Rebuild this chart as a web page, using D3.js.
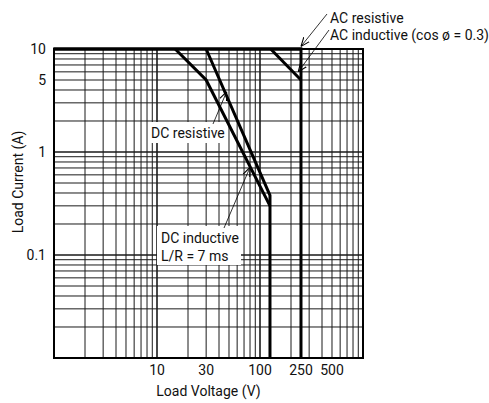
<!DOCTYPE html>
<html>
  <head>
    <meta charset="utf-8"/>
    <title>Maximum switching capacity</title>
    <script src="https://cdnjs.cloudflare.com/ajax/libs/d3/7.8.5/d3.min.js"></script>
    <style>
      body { margin: 0; background: #fff; }
      text {
        font-family: Roboto, "Liberation Sans", sans-serif;
        font-size: 14px;
        fill: #111;
      }
      .grid line { stroke: #1a1a1a; stroke-width: 1px; }
      .curve { fill: none; stroke: #000; stroke-width: 3px; stroke-linejoin: miter; }
      .arrow { fill: none; stroke: #000; stroke-width: 0.8px; }
    </style>
  </head>
  <body>

    <script>

      var outerWidth = 489;
      var outerHeight = 403;

      // axes
      var voltDomain = [1, 1000];
      var ampDomain = [0.01, 10];
      var xTickValues = [10, 30, 100, 250, 500];
      var yTickValues = [10, 5, 1, 0.1];

      // curves (V, A)
      var acResV = [1, 250, 250];
      var acResA = [10, 10, 0.01];
      var acIndV = [127, 250];
      var acIndA = [10, 5];
      var dcResV = [30, 125, 125];
      var dcResA = [10, 0.38, 0.01];
      var dcIndV = [15, 30, 125];
      var dcIndA = [10, 5, 0.3];

      // labels and where their arrows point (V, A)
      var noteLines = [["AC resistive"], ["AC inductive (cos ø = 0.3)"], ["DC resistive"], ["DC inductive", "L/R = 7 ms"]];
      var noteV = [250, 235, 47.5, 80];
      var noteA = [10.6, 6.0, 3.86, 0.71];

      var margin = { left: 54, top: 49 };
      var plotSize = 309;

      var svg = d3.select("body").append("svg")
        .attr("width", outerWidth)
        .attr("height", outerHeight);

      var xScale = d3.scaleLog().domain(voltDomain).range([margin.left, margin.left + plotSize]);
      var yScale = d3.scaleLog().domain(ampDomain).range([margin.top + plotSize, margin.top]);

      // log grid: 1..9 in each decade
      function gridValues(domain){
        var out = [];
        for (var d = domain[0]; d < domain[1] - 1e-9; d *= 10){
          for (var k = 1; k < 10; k++) out.push(d * k);
        }
        out.push(domain[1]);
        return out;
      }
      function isDecade(v){ return Math.abs(Math.log10(v) - Math.round(Math.log10(v))) < 1e-6; }

      var grid = svg.append("g").attr("class", "grid");
      grid.selectAll("line.v").data(gridValues(voltDomain)).enter().append("line")
        .attr("class", "v")
        .attr("x1", function (d){ return xScale(d); })
        .attr("x2", function (d){ return xScale(d); })
        .attr("y1", yScale(ampDomain[0]))
        .attr("y2", yScale(ampDomain[1]))
        .style("stroke-width", function (d){ return isDecade(d) ? 1.6 : 1; });
      grid.selectAll("line.h").data(gridValues(ampDomain)).enter().append("line")
        .attr("class", "h")
        .attr("y1", function (d){ return yScale(d); })
        .attr("y2", function (d){ return yScale(d); })
        .attr("x1", xScale(voltDomain[0]))
        .attr("x2", xScale(voltDomain[1]))
        .style("stroke-width", function (d){ return isDecade(d) ? 1.6 : 1; });

      svg.append("rect")
        .attr("x", xScale(voltDomain[0]))
        .attr("y", yScale(ampDomain[1]))
        .attr("width", xScale(voltDomain[1]) - xScale(voltDomain[0]))
        .attr("height", yScale(ampDomain[0]) - yScale(ampDomain[1]))
        .attr("fill", "none")
        .attr("stroke", "#000")
        .attr("stroke-width", 2);

      // white label boxes over the grid
      svg.append("rect").attr("x", 148).attr("y", 122).attr("width", 77).attr("height", 21).attr("fill", "#fff");
      svg.append("rect").attr("x", 157).attr("y", 226).attr("width", 84).attr("height", 39).attr("fill", "#fff");

      var line = d3.line()
        .x(function (d){ return xScale(d[0]); })
        .y(function (d){ return yScale(d[1]); });

      function pairs(vs, as){ return vs.map(function (v, i){ return [v, as[i]]; }); }

      [[acResV, acResA], [acIndV, acIndA], [dcResV, dcResA], [dcIndV, dcIndA]].forEach(function (c){
        svg.append("path").attr("class", "curve").attr("d", line(pairs(c[0], c[1])));
      });
      svg.append("rect")
        .attr("x", xScale(voltDomain[0]) - 1)
        .attr("y", yScale(ampDomain[1]) - 1.5)
        .attr("width", xScale(250) - xScale(voltDomain[0]) + 2)
        .attr("height", 3)
        .attr("fill", "#000");

      // arrows
      svg.append("defs").append("marker")
        .attr("id", "head")
        .attr("viewBox", "0 0 10 10")
        .attr("refX", 10).attr("refY", 5)
        .attr("markerWidth", 9).attr("markerHeight", 9)
        .attr("markerUnits", "userSpaceOnUse")
        .attr("orient", "auto")
        .append("path").attr("d", "M0,1 L10,5 L0,9").attr("fill", "none").attr("stroke", "#000").attr("stroke-width", 1.2);

      var noteText = [[330, 23], [330, 40], [151, 138], [161, 243]];
      var noteTail = [[327, 14], [329, 30], [213, 124], [224, 228]];

      noteLines.forEach(function (lines, i){
        svg.append("line").attr("class", "arrow")
          .attr("x1", noteTail[i][0]).attr("y1", noteTail[i][1])
          .attr("x2", xScale(noteV[i])).attr("y2", yScale(noteA[i]))
          .attr("stroke", "#000")
          .attr("marker-end", "url(#head)");
        var t = svg.append("text").attr("x", noteText[i][0]).attr("y", noteText[i][1]);
        lines.forEach(function (s, j){
          t.append("tspan").attr("x", noteText[i][0]).attr("dy", j ? 18 : 0).text(s);
        });
      });

      // tick labels
      svg.selectAll("text.xt").data(xTickValues).enter().append("text")
        .attr("class", "xt")
        .attr("x", function (d){ return xScale(d); })
        .attr("y", 375)
        .attr("text-anchor", "middle")
        .text(function (d){ return d; });
      svg.selectAll("text.yt").data(yTickValues).enter().append("text")
        .attr("class", "yt")
        .attr("x", 46)
        .attr("y", function (d){ return yScale(d) + 5; })
        .attr("text-anchor", "end")
        .text(function (d){ return d; });

      svg.append("text")
        .attr("x", xScale(31.6)).attr("y", 396)
        .attr("text-anchor", "middle")
        .text("Load Voltage (V)");
      svg.append("text")
        .attr("transform", "translate(23,182) rotate(-90)")
        .attr("text-anchor", "middle")
        .text("Load Current (A)");

    </script>

  </body>
</html>
